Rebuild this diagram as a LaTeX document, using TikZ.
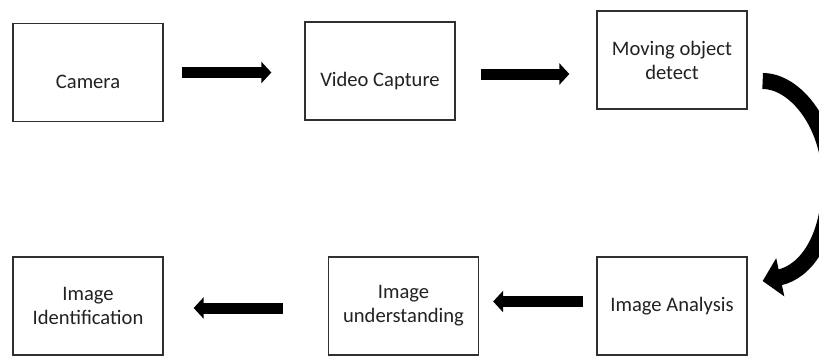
\documentclass[tikz,border=0pt]{standalone}
\usepackage{fontspec}
\setmainfont{Carlito}
\usetikzlibrary{arrows.meta}
\definecolor{boxline}{HTML}{303030}
\definecolor{txt}{HTML}{222222}
\tikzset{
  stagebox/.style={draw=boxline, line width=1.3pt, minimum width=150pt, minimum height=98pt,
    inner sep=2pt, align=center, text=txt, font=\fontsize{20.6}{24}\selectfont},
  lowtext/.style={text height=31pt, text depth=0pt},
  flowarrow/.style={line width=11pt, draw=black, -{Triangle[length=10pt, width=21pt]}},
  bendarrow/.style={line width=16pt, draw=black, line cap=butt, -{Triangle[length=18pt, width=38pt]}}
}
\begin{document}
\begin{tikzpicture}[x=1pt, y=-1pt]
\useasboundingbox (0,0) rectangle (819,356);
\fill[white] (0,0) rectangle (819,356);
\clip (0,0) rectangle (819,356);
\node[stagebox, lowtext] (cam) at (88,72.5) {Camera};
\node[stagebox, lowtext] (vc) at (380,71) {Video Capture};
\node[stagebox] (mod) at (672,60) {Moving object\\detect};
\node[stagebox] (ia) at (672,306) {Image Analysis};
\node[stagebox] (iu) at (403.5,306) {Image\\understanding};
\node[stagebox] (iid) at (88,306) {Image\\Identification};

\draw[flowarrow, shorten <=18pt, shorten >=33pt] (cam.east) -- (cam.east -| vc.west);
\draw[flowarrow, shorten <=25pt, shorten >=27pt] ([yshift=-3pt]vc.east) -- ([yshift=-3pt]vc.east -| mod.west);
\draw[flowarrow, shorten <=13pt, shorten >=14pt] ([yshift=4.5pt]ia.west) -- ([yshift=4.5pt]ia.west -| iu.east);
\draw[flowarrow, shorten <=45pt, shorten >=30pt] ([yshift=-2pt]iu.west) -- ([yshift=-2pt]iu.west -| iid.east);

\coordinate (bstart) at ([xshift=15pt, yshift=-21pt]mod.east);
\coordinate (bend) at ([xshift=15pt, yshift=25pt]ia.east);
\draw[bendarrow] (bstart) .. controls +(33,0) and (830,125) .. (830,180)
  .. controls (830,240) and (805,272) .. (bend);
\end{tikzpicture}
\end{document}
